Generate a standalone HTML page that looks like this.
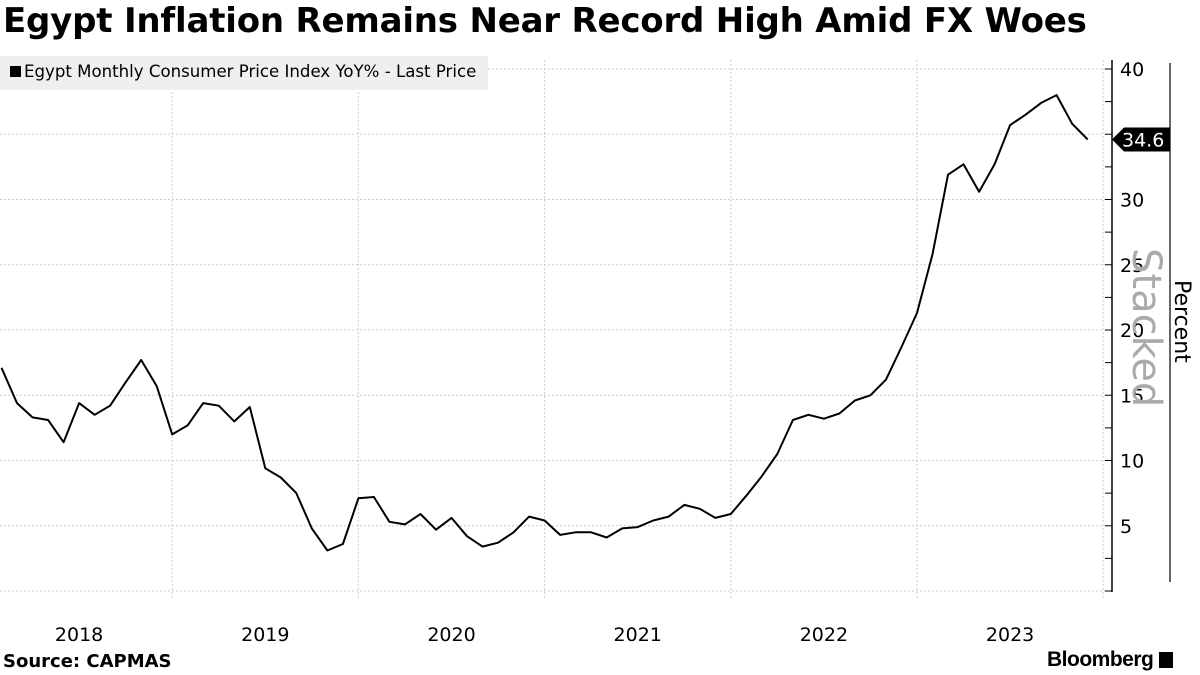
<!DOCTYPE html>
<html><head><meta charset="utf-8"><style>
body{margin:0;width:1200px;height:675px;background:#fff;overflow:hidden;font-family:"Liberation Sans","DejaVu Sans",sans-serif;position:relative}
.t{position:absolute;white-space:nowrap}
</style></head><body>
<div class="t" style="left:3px;top:1px;font-size:34px;font-weight:bold;font-family:'DejaVu Sans',sans-serif;letter-spacing:-0.2px">Egypt Inflation Remains Near Record High Amid FX Woes</div>
<svg id="c" width="1200" height="675" style="position:absolute;left:0;top:0"></svg>
<div class="t" style="left:0;top:56px;width:488px;height:34px;background:#efefef;"></div>
<div class="t" style="left:10px;top:62px;font-size:16.6px;font-family:'DejaVu Sans',sans-serif"><span style="display:inline-block;width:11px;height:11px;background:#000;margin-right:3px"></span>Egypt Monthly Consumer Price Index YoY% - Last Price</div>
<div class="t" style="left:3px;top:651px;font-size:18px;font-weight:bold;font-family:'DejaVu Sans',sans-serif">Source: CAPMAS</div>
<div class="t" style="left:1047px;top:648px;font-size:21px;font-weight:bold;letter-spacing:-0.5px">Bloomberg <span style="display:inline-block;width:14px;height:16px;background:#000;vertical-align:-2px"></span></div>
<script>
const years=["2018","2019","2020","2021","2022","2023"];
const yTicks=[5,10,15,20,25,30,40];
const values=[17.1,14.4,13.3,13.1,11.4,14.4,13.5,14.2,16.0,17.7,15.7,12.0,
12.7,14.4,14.2,13.0,14.1,9.4,8.7,7.5,4.8,3.1,3.6,7.1,
7.2,5.3,5.1,5.9,4.7,5.6,4.2,3.4,3.7,4.5,5.7,5.4,
4.3,4.5,4.5,4.1,4.8,4.9,5.4,5.7,6.6,6.3,5.6,5.9,
7.3,8.8,10.5,13.1,13.5,13.2,13.6,14.6,15.0,16.2,18.7,21.3,
25.8,31.9,32.7,30.6,32.7,35.7,36.5,37.4,38.0,35.8,34.6];
const lastLabel="34.6";
const svg=document.getElementById('c');const NS='http://www.w3.org/2000/svg';
function el(t,a,p){const e=document.createElementNS(NS,t);for(const k in a)e.setAttribute(k,a[k]);(p||svg).appendChild(e);return e;}
const yr0=-14,yrW=186.2;
const X=i=>yr0+(i+1)*yrW/12;
const Y=v=>591-13.05*v;
for(let v=0;v<=40;v+=5){const g=el('line',{x1:0,x2:1105,y1:Y(v),y2:Y(v),stroke:'#ccc','stroke-dasharray':'2,2'});

}
for(let k=1;k<=years.length;k++){const x=yr0+k*yrW;const g=el('line',{x1:x,x2:x,y1:60,y2:598,stroke:'#ccc','stroke-dasharray':'2,2'});

}
years.forEach((y,k)=>{const t=el('text',{x:yr0+k*yrW+yrW/2,y:641,'text-anchor':'middle','font-size':19,'font-family':'DejaVu Sans, sans-serif'});t.textContent=y;

});
const ax=el('line',{x1:1112,x2:1112,y1:60,y2:592,stroke:'#000','stroke-width':1.5});


for(let v=0;v<=40;v+=2.5){el('line',{x1:1105,x2:1112,y1:Y(v),y2:Y(v),stroke:'#000'});}
yTicks.forEach(v=>{const t=el('text',{x:1120,y:Y(v)+7,'font-size':19,'font-family':'DejaVu Sans, sans-serif'});t.textContent=v;

});
const st=el('text',{transform:'translate(1133,248) rotate(90)','font-size':40,fill:'#aaa','font-family':'DejaVu Sans, sans-serif'});st.textContent='Stacked';


el('line',{x1:1170,x2:1170,y1:63,y2:582,stroke:'#000','stroke-width':1.2});
const pt=el('text',{transform:'translate(1175,280) rotate(90)','font-size':22,'font-family':'DejaVu Sans, sans-serif'});pt.textContent='Percent';


const d=values.map((v,i)=>(i?'L':'M')+X(i).toFixed(1)+','+Y(v).toFixed(1)).join('');
const ln=el('path',{d:d,fill:'none',stroke:'#000','stroke-width':2,'stroke-linejoin':'round'});


const ly=Y(values[values.length-1]);
const tag=el('path',{d:`M1112,${ly}L1124,${ly-12}L1170,${ly-12}L1170,${ly+12}L1124,${ly+12}Z`,fill:'#000'});


const lt=el('text',{x:1122,y:ly+7,'font-size':19,fill:'#fff','font-family':'DejaVu Sans, sans-serif'});lt.textContent=lastLabel;


</script>
</body></html>
